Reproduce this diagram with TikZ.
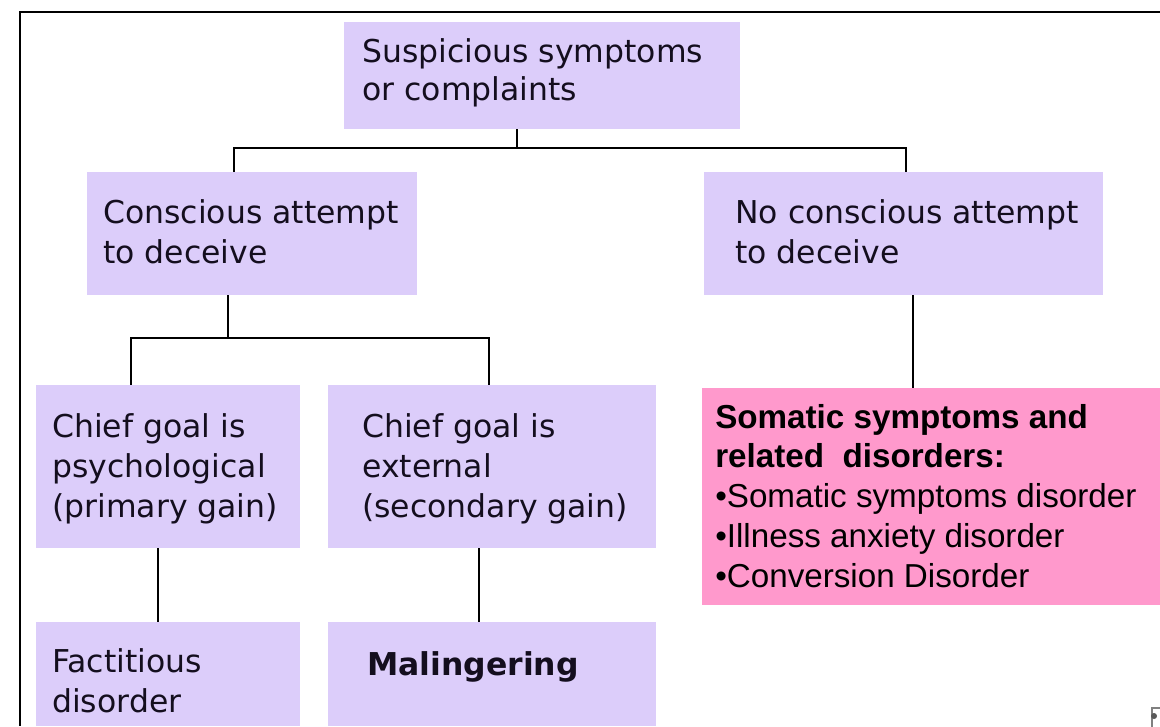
\documentclass[tikz,border=0pt]{standalone}
\usepackage{fontspec}
\usetikzlibrary{fit}
\newfontfamily\verd{DejaVu Sans}
\newfontfamily\ari{Liberation Sans}
\definecolor{lav}{RGB}{220,205,250}
\definecolor{pinkbox}{RGB}{255,153,204}
\definecolor{ink}{RGB}{20,14,30}
\tikzset{
  box/.style={fill=lav, draw=none, inner sep=0pt},
  pbox/.style={fill=pinkbox, draw=none, inner sep=0pt},
  conn/.style={draw=black, line width=2.1pt},
  frame/.style={draw=black, line width=1.7pt},
  txt/.style={anchor=base west, inner sep=0pt, align=left, text=ink, font=\verd\fontsize{23.6}{30}\selectfont},
  ptxt/.style={anchor=base west, inner sep=0pt, align=left, text=black, font=\ari\fontsize{24.9}{29.8}\selectfont},
}
\begin{document}
\begin{tikzpicture}[x=0.75pt,y=-0.75pt]
\useasboundingbox (0,0) rectangle (1160,726);
\fill[white] (0,0) rectangle (1160,726);
% frame
\draw[frame] (1160,12) -- (20,12) -- (20,726);
% boxes
\node[box, fit={(344,22) (740,129)}] (top) {};
\node[box, fit={(87,172) (417,295)}] (cons) {};
\node[box, fit={(704,172) (1103,295)}] (nocons) {};
\node[box, fit={(36,385) (300,548)}] (psych) {};
\node[box, fit={(328,385) (656,548)}] (ext) {};
\node[box, fit={(36,622) (300,726)}] (fact) {};
\node[box, fit={(328,622) (656,726)}] (mal) {};
\node[pbox, fit={(702,388) (1160,605)}] (soma) {};
% texts (anchor = baseline of last line)
\node[txt] (ttop) at (362,100) {Suspicious symptoms\\[-2pt]or complaints};
\node[txt] (tcons) at (103,263) {Conscious attempt\\to deceive};
\node[txt] (tnocons) at (735,263) {No conscious attempt\\to deceive};
\node[txt] (tpsych) at (52,517) {Chief goal is\\psychological\\(primary gain)};
\node[txt] (text) at (362,517) {Chief goal is\\external\\(secondary gain)};
\node[txt] (tfact) at (52,712) {Factitious\\disorder};
\node[txt, font=\verd\bfseries\fontsize{23.6}{30}\selectfont] (tmal) at (367,675) {Malingering};
\node[ptxt] (tsoma) at (715,587) {\bfseries Somatic symptoms and\\\bfseries related~~disorders:\\•Somatic symptoms disorder\\•Illness anxiety disorder\\•Conversion Disorder};
% junction coordinates
\coordinate (j1) at (517,148);
\coordinate (jl) at (234,148);
\coordinate (jr) at (906,148);
\coordinate (j2) at (228,338);
\coordinate (jl2) at (131,338);
\coordinate (jr2) at (489,338);
\coordinate (xp) at (158,0);
\coordinate (xe) at (479,0);
\coordinate (xn) at (913,0);
% connectors
\draw[conn] (top.south -| j1) -- (j1);
\draw[conn] (cons.north -| jl) |- (j1) -| (nocons.north -| jr);
\draw[conn] (cons.south -| j2) -- (j2);
\draw[conn] (psych.north -| jl2) |- (jr2) -- (ext.north -| jr2);
\draw[conn] (psych.south -| xp) -- (fact.north -| xp);
\draw[conn] (ext.south -| xe) -- (mal.north -| xe);
\draw[conn] (nocons.south -| xn) -- (soma.north -| xn);
% small corner icon
\draw[gray, line width=0.8pt, fill=white] (1152,708) rectangle (1164,730);
\fill[gray!70!black] (1154,716) circle (3);
\end{tikzpicture}
\end{document}
